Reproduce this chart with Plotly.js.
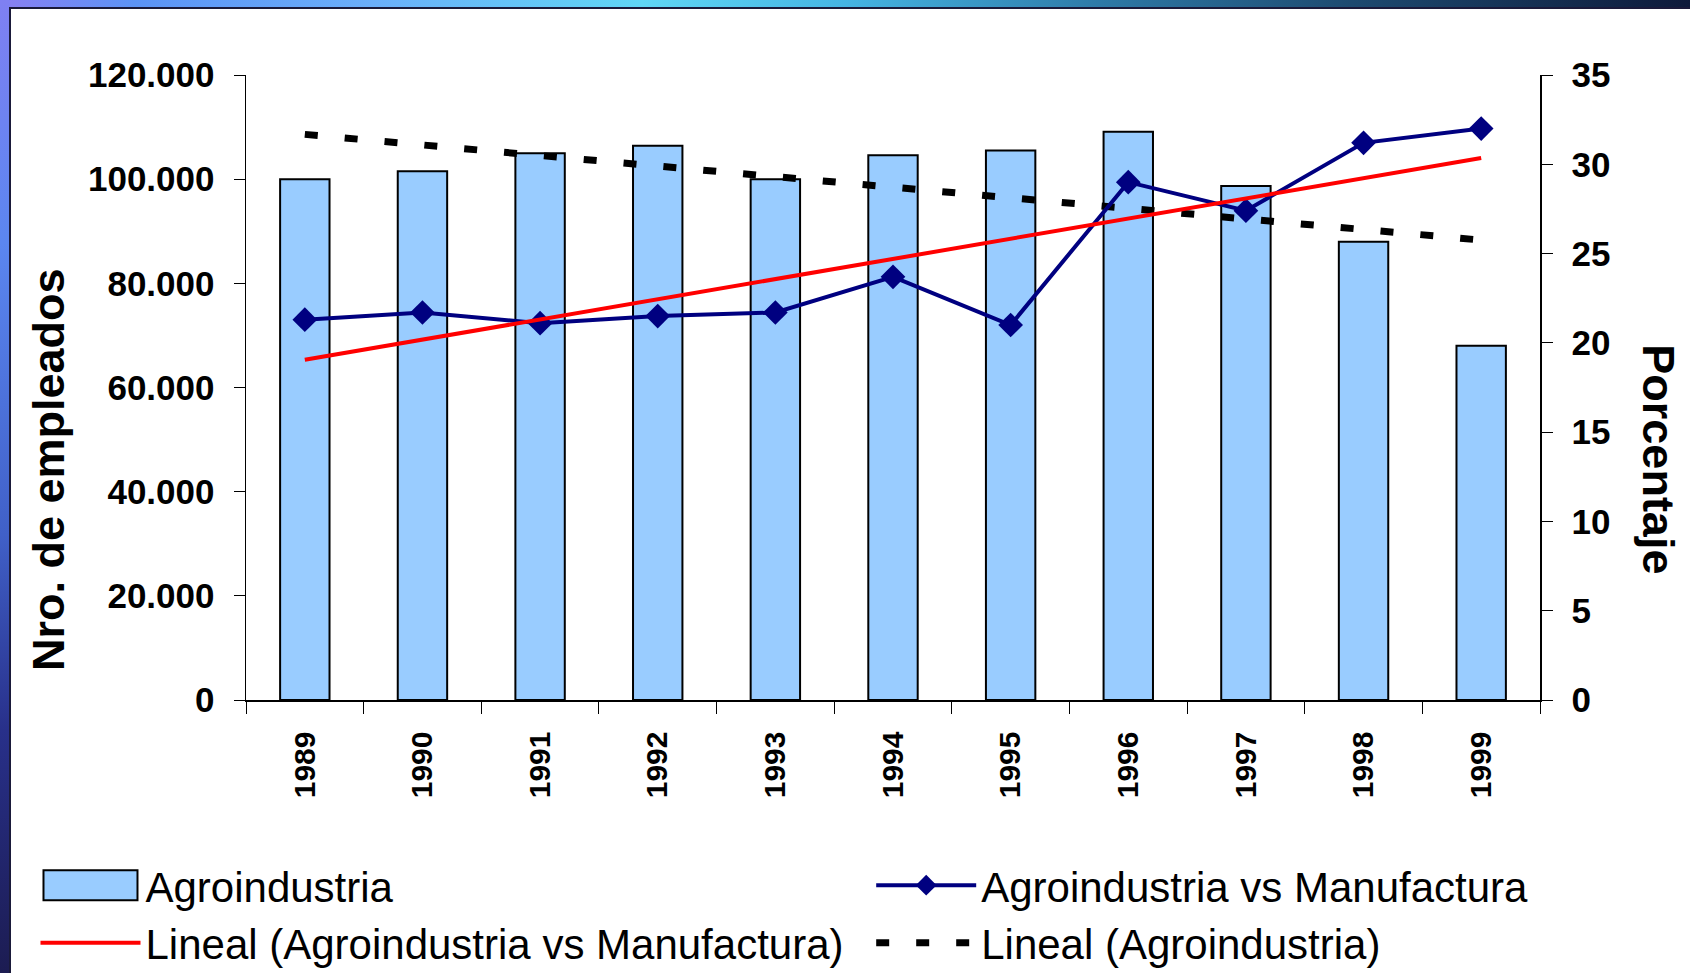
<!DOCTYPE html>
<html>
<head>
<meta charset="utf-8">
<script src="https://cdn.plot.ly/plotly-3.0.1.min.js"></script>
<style>
  html, body { margin: 0; padding: 0; width: 1690px; height: 973px; overflow: hidden; background: #1c2050; }
  #topstrip { position: absolute; left: 0; top: 0; width: 1690px; height: 8px;
    background: linear-gradient(to right, #8a7ff2 0%, #5b93f7 8%, #6aaefa 22%, #5fd6f6 38%, #45b4e4 50%, #2e7aa8 65%, #1d4a70 80%, #0e1a3a 100%); }
  #leftstrip { position: absolute; left: 0; top: 0; width: 10px; height: 973px;
    background: linear-gradient(to bottom, #7f80f2 0%, #5b86f0 25%, #4060c8 55%, #28308a 75%, #1c1c52 100%); }
  #white { position: absolute; left: 9px; top: 7px; right: 0; bottom: 0; background: #ffffff;
    border-left: 2px solid #1a1a3a; border-top: 2px solid #1a1a3a; }
  #chart { position: absolute; left: 0; top: 0; width: 1690px; height: 973px; }
</style>
</head>
<body>
<div id="topstrip"></div>
<div id="leftstrip"></div>
<div id="white"></div>
<div id="chart"></div>
<script>
// ---- data ----
var years = ['1989','1990','1991','1992','1993','1994','1995','1996','1997','1998','1999'];
var empleados = [100000, 101500, 105000, 106400, 100000, 104600, 105500, 109100, 98700, 88000, 68000];
var porcentaje = [21.3, 21.7, 21.1, 21.5, 21.7, 23.7, 21.0, 29.0, 27.4, 31.2, 32.0];
// linear trend lines (end points)
var trendYears = ['1989', '1999'];
var trendPorcentaje = [19.05, 30.35];
var trendEmpleados = [108600, 88300];

var FONT = '"Liberation Sans", Arial, sans-serif';

var traces = [
  {
    type: 'bar', name: 'Agroindustria', x: years, y: empleados, yaxis: 'y',
    legend: 'legend',
    marker: { color: '#99CCFF', line: { color: '#000000', width: 2 } },
    width: 0.42
  },
  {
    type: 'scatter', mode: 'lines+markers', name: 'Agroindustria vs Manufactura',
    x: years, y: porcentaje, yaxis: 'y2',
    legend: 'legend2',
    line: { color: '#000080', width: 4 },
    marker: { symbol: 'diamond', size: 19, color: '#000080' }
  },
  {
    type: 'scatter', mode: 'lines', name: 'Lineal (Agroindustria vs Manufactura)',
    x: trendYears, y: trendPorcentaje, yaxis: 'y2',
    legend: 'legend',
    line: { color: '#FF0000', width: 4 }
  },
  {
    type: 'scatter', mode: 'lines', name: 'Lineal (Agroindustria)',
    x: trendYears, y: trendEmpleados, yaxis: 'y',
    legend: 'legend2',
    line: { color: '#000000', width: 7, dash: '13px,27px' }
  }
];

var tickFont = { family: FONT, size: 35, color: '#000000', weight: 'bold' };

var legendBase = {
  orientation: 'v',
  xref: 'container', yref: 'container',
  y: 0.125, xanchor: 'left', yanchor: 'top',
  font: { family: FONT, size: 42, color: '#000000' },
  itemwidth: 100,
  bgcolor: 'rgba(0,0,0,0)', borderwidth: 0,
  traceorder: 'normal'
};

var layout = {
  width: 1690, height: 973,
  margin: { l: 246, r: 150, t: 75, b: 273, pad: 0, autoexpand: false },
  paper_bgcolor: 'rgba(0,0,0,0)',
  plot_bgcolor: 'rgba(0,0,0,0)',
  separators: ',.',
  showlegend: true,
  font: { family: FONT, color: '#000000' },
  xaxis: {
    type: 'category', range: [-0.5, 10.5],
    tickson: 'boundaries', ticks: 'outside', ticklen: 12, tickcolor: '#000000', tickwidth: 1,
    showline: true, linecolor: '#000000', linewidth: 1.5,
    showgrid: false, zeroline: false,
    tickangle: -90, tickfont: { family: FONT, size: 30, color: '#000000', weight: 'bold' },
    ticklabelstandoff: 18
  },
  yaxis: {
    range: [0, 120000], dtick: 20000, tick0: 0, tickformat: ',d',
    ticks: 'outside', ticklen: 11, tickcolor: '#000000', tickwidth: 1,
    showline: true, linecolor: '#000000', linewidth: 1.5,
    showgrid: false, zeroline: false,
    tickfont: tickFont, ticklabelstandoff: 12
  },
  yaxis2: {
    overlaying: 'y', side: 'right',
    range: [0, 35], dtick: 5, tick0: 0,
    ticks: 'outside', ticklen: 11, tickcolor: '#000000', tickwidth: 1,
    showline: true, linecolor: '#000000', linewidth: 1.5,
    showgrid: false, zeroline: false,
    tickfont: tickFont, ticklabelstandoff: 12
  },
  legend: Object.assign({}, legendBase, { x: 0.021 }),
  legend2: Object.assign({}, legendBase, { x: 0.5155 }),
  annotations: [
    {
      text: 'Nro. de empleados', xref: 'paper', yref: 'paper',
      x: -0.153, y: 0.368, xanchor: 'center', yanchor: 'middle',
      textangle: -90, showarrow: false,
      font: { family: FONT, size: 45, color: '#000000', weight: 'bold' }
    },
    {
      text: 'Porcentaje', xref: 'paper', yref: 'paper',
      x: 1.092, y: 0.385, xanchor: 'center', yanchor: 'middle',
      textangle: 90, showarrow: false,
      font: { family: FONT, size: 45, color: '#000000', weight: 'bold' }
    }
  ]
};

// widen the bar legend swatch to a box like the original legend key
function widenBarSwatch(gd) {
  var paths = gd.querySelectorAll('g.legendpoints path');
  paths.forEach(function (p) {
    var d = (p.getAttribute('d') || '').replace(/\s/g, '');
    if (d === 'M6,6H-6V-6H6Z' || p.classList.contains('legendbar')) {
      p.setAttribute('d', 'M47,15H-47V-15H47Z');
    }
  });
}

var chartDiv = document.getElementById('chart');
Plotly.newPlot(chartDiv, traces, layout, { displayModeBar: false, staticPlot: true }).then(function (gd) {
  widenBarSwatch(gd);
  setTimeout(function () { widenBarSwatch(gd); }, 50);
  setTimeout(function () { widenBarSwatch(gd); }, 300);
});
chartDiv.on && chartDiv.on('plotly_afterplot', function () { widenBarSwatch(chartDiv); });
</script>
</body>
</html>
